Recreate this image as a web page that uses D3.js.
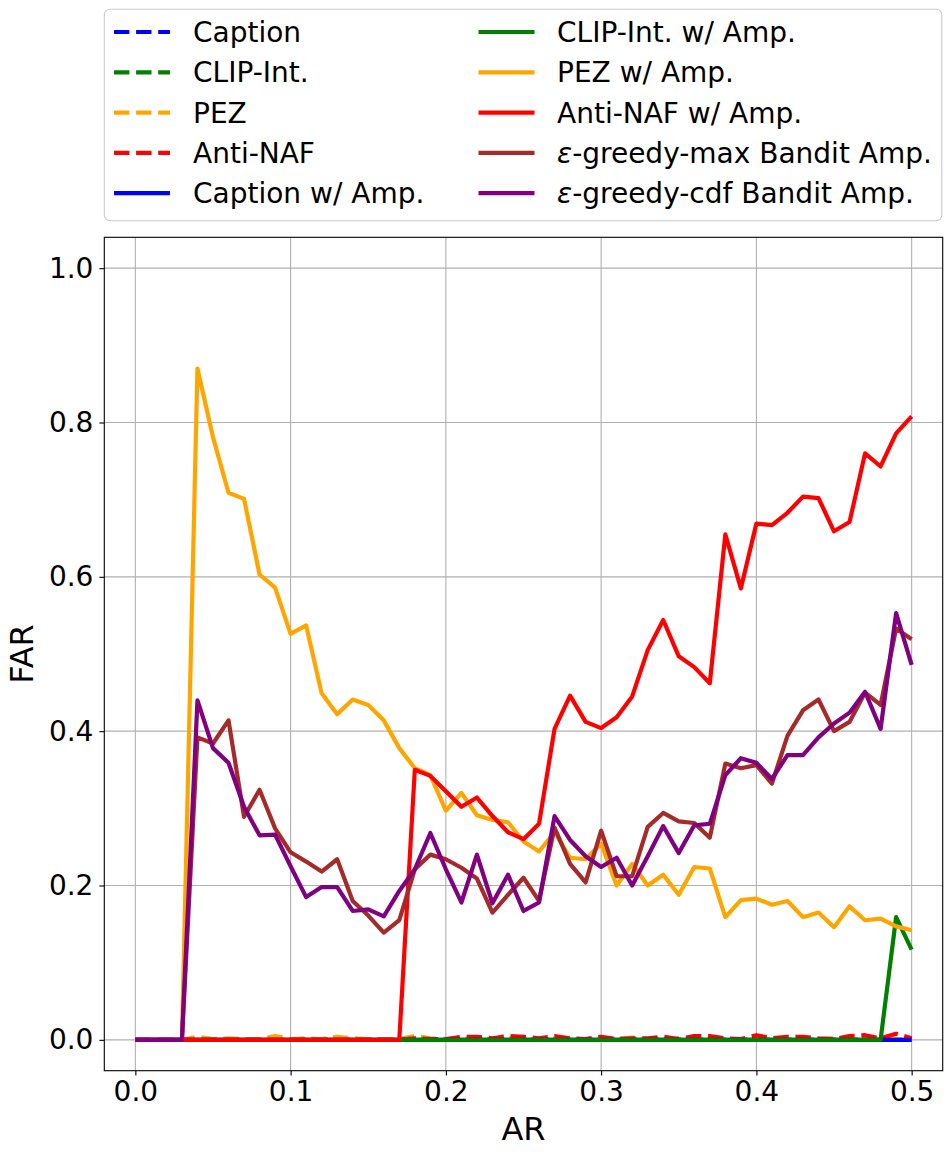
<!DOCTYPE html>
<html>
<head>
<meta charset="utf-8">
<script src="https://cdn.jsdelivr.net/npm/d3@7"></script>
<style>
  body { margin: 0; background: #fff; }
  text { font-family: "DejaVu Sans", sans-serif; }
</style>
</head>
<body>
<div id="chart"></div>
<script>
// AR values on the x axis
const arValues = [
  0.00, 0.01, 0.02, 0.03, 0.04, 0.05, 0.06, 0.07, 0.08, 0.09,
  0.10, 0.11, 0.12, 0.13, 0.14, 0.15, 0.16, 0.17, 0.18, 0.19,
  0.20, 0.21, 0.22, 0.23, 0.24, 0.25, 0.26, 0.27, 0.28, 0.29,
  0.30, 0.31, 0.32, 0.33, 0.34, 0.35, 0.36, 0.37, 0.38, 0.39,
  0.40, 0.41, 0.42, 0.43, 0.44, 0.45, 0.46, 0.47, 0.48, 0.49, 0.50
];

// baselines (dashed)
const captionFar = [
  0, 0, 0, 0, 0, 0, 0, 0, 0, 0,
  0, 0, 0, 0, 0, 0, 0, 0, 0, 0,
  0, 0, 0, 0, 0, 0, 0, 0, 0, 0,
  0, 0, 0, 0, 0, 0, 0, 0, 0, 0,
  0, 0, 0, 0, 0, 0, 0, 0, 0, 0, 0
];
const clipIntFar = [
  0, 0, 0, 0, 0, 0, 0, 0, 0, 0,
  0, 0, 0, 0, 0, 0, 0, 0, 0, 0,
  0, 0, 0, 0, 0, 0, 0, 0, 0, 0,
  0, 0, 0, 0, 0, 0, 0, 0, 0, 0,
  0, 0, 0, 0, 0, 0, 0, 0, 0, 0, 0
];
const pezFar = [
  0, 0, 0, 0, 0.004, 0.001, 0.002, 0.001, 0.001, 0.005,
  0.001, 0.002, 0.001, 0.004, 0.002, 0.001, 0.001, 0.001, 0.005, 0.002,
  0.001, 0.001, 0.002, 0.001, 0.002, 0.001, 0.001, 0.002, 0.001, 0.001,
  0.002, 0.001, 0.003, 0.001, 0.001, 0.002, 0.001, 0.002, 0.001, 0.001,
  0.002, 0.003, 0.001, 0.001, 0.001, 0.002, 0.001, 0.001, 0.002, 0.001, 0.001
];
const antiNafFar = [
  0, 0, 0, 0, 0, 0, 0, 0, 0, 0,
  0, 0, 0, 0, 0, 0, 0, 0, 0.002, 0.001,
  0.001, 0.004, 0.004, 0.002, 0.005, 0.004, 0.002, 0.005, 0.002, 0.001,
  0.004, 0.001, 0.002, 0.002, 0.004, 0.001, 0.005, 0.005, 0.002, 0.001,
  0.006, 0.002, 0.004, 0.004, 0.002, 0.001, 0.005, 0.006, 0.002, 0.008, 0.002
];

// with amplification (solid)
const captionAmpFar = [
  0, 0, 0, 0, 0, 0, 0, 0, 0, 0,
  0, 0, 0, 0, 0, 0, 0, 0, 0, 0,
  0, 0, 0, 0, 0, 0, 0, 0, 0, 0,
  0, 0, 0, 0, 0, 0, 0, 0, 0, 0,
  0, 0, 0, 0, 0, 0, 0, 0, 0, 0, 0
];
const clipIntAmpFar = [
  0, 0, 0, 0, 0, 0, 0, 0, 0, 0,
  0, 0, 0, 0, 0, 0, 0, 0, 0, 0,
  0, 0, 0, 0, 0, 0, 0, 0, 0, 0,
  0, 0, 0, 0, 0, 0, 0, 0, 0, 0,
  0, 0, 0, 0, 0, 0, 0, 0, 0, 0.159, 0.117
];
const pezAmpFar = [
  0, 0, 0, 0, 0.870, 0.781, 0.709, 0.701, 0.603, 0.586,
  0.526, 0.537, 0.449, 0.422, 0.441, 0.434, 0.414, 0.378, 0.352, 0.343,
  0.297, 0.320, 0.291, 0.285, 0.282, 0.257, 0.244, 0.269, 0.236, 0.234,
  0.254, 0.200, 0.228, 0.200, 0.214, 0.188, 0.224, 0.222, 0.159, 0.181,
  0.183, 0.175, 0.180, 0.159, 0.165, 0.146, 0.173, 0.155, 0.157, 0.147, 0.142
];
const antiNafAmpFar = [
  0, 0, 0, 0, 0, 0, 0, 0, 0, 0,
  0, 0, 0, 0, 0, 0, 0, 0, 0.350, 0.342,
  0.322, 0.302, 0.314, 0.290, 0.269, 0.260, 0.280, 0.403, 0.446, 0.412,
  0.404, 0.418, 0.445, 0.505, 0.544, 0.497, 0.483, 0.462, 0.655, 0.585,
  0.669, 0.667, 0.683, 0.704, 0.702, 0.659, 0.671, 0.760, 0.743, 0.786, 0.808
];
const banditMaxFar = [
  0, 0, 0, 0, 0.392, 0.384, 0.414, 0.289, 0.324, 0.274,
  0.243, 0.231, 0.218, 0.234, 0.180, 0.161, 0.139, 0.155, 0.221, 0.240,
  0.234, 0.223, 0.209, 0.165, 0.188, 0.210, 0.180, 0.275, 0.228, 0.204,
  0.271, 0.212, 0.212, 0.276, 0.294, 0.283, 0.281, 0.262, 0.358, 0.352,
  0.356, 0.332, 0.394, 0.427, 0.441, 0.400, 0.412, 0.450, 0.434, 0.533, 0.519
];
const banditCdfFar = [
  0, 0, 0, 0, 0.440, 0.378, 0.359, 0.302, 0.265, 0.266,
  0.225, 0.185, 0.198, 0.198, 0.167, 0.169, 0.160, 0.193, 0.221, 0.268,
  0.221, 0.178, 0.240, 0.177, 0.214, 0.167, 0.178, 0.290, 0.259, 0.238,
  0.224, 0.236, 0.200, 0.238, 0.277, 0.242, 0.278, 0.280, 0.343, 0.365,
  0.359, 0.338, 0.369, 0.369, 0.392, 0.410, 0.424, 0.451, 0.403, 0.553, 0.486
];

const xTicks = [0.0, 0.1, 0.2, 0.3, 0.4, 0.5];
const yTicks = [0.0, 0.2, 0.4, 0.6, 0.8, 1.0];

// series in plotting order (legend order)
const seriesList = [
  { name: "Caption", values: captionFar, color: "blue", dashed: true },
  { name: "CLIP-Int.", values: clipIntFar, color: "green", dashed: true },
  { name: "PEZ", values: pezFar, color: "orange", dashed: true },
  { name: "Anti-NAF", values: antiNafFar, color: "red", dashed: true },
  { name: "Caption w/ Amp.", values: captionAmpFar, color: "blue", dashed: false },
  { name: "CLIP-Int. w/ Amp.", values: clipIntAmpFar, color: "green", dashed: false },
  { name: "PEZ w/ Amp.", values: pezAmpFar, color: "orange", dashed: false },
  { name: "Anti-NAF w/ Amp.", values: antiNafAmpFar, color: "red", dashed: false },
  { name: "-greedy-max Bandit Amp.", eps: true, values: banditMaxFar, color: "brown", dashed: false },
  { name: "-greedy-cdf Bandit Amp.", eps: true, values: banditCdfFar, color: "purple", dashed: false }
];

const W = 952, H = 1157;
const plot = { left: 104.3, right: 942.7, top: 237.3, bottom: 1070.7 };
const lineWidth = 4.2;
const dash = "15.4,6.7";

let svg = d3.select("#chart").append("svg")
  .attr("width", W)
  .attr("height", H);

let x = d3.scaleLinear().domain([-0.02, 0.52]).range([plot.left, plot.right]);
let y = d3.scaleLinear().domain([-0.04, 1.04]).range([plot.bottom, plot.top]);

// grid
let grid = svg.append("g").attr("stroke", "#b0b0b0").attr("stroke-width", 1.1);
grid.selectAll(".vgrid").data(xTicks).enter().append("line")
  .attr("x1", d => x(d)).attr("x2", d => x(d))
  .attr("y1", plot.top).attr("y2", plot.bottom);
grid.selectAll(".hgrid").data(yTicks).enter().append("line")
  .attr("y1", d => y(d)).attr("y2", d => y(d))
  .attr("x1", plot.left).attr("x2", plot.right);

// clip lines to the axes box
svg.append("clipPath").attr("id", "plotClip").append("rect")
  .attr("x", plot.left).attr("y", plot.top)
  .attr("width", plot.right - plot.left).attr("height", plot.bottom - plot.top);

let line = d3.line()
  .x((d, i) => x(arValues[i]))
  .y(d => y(d));

svg.append("g").attr("clip-path", "url(#plotClip)")
  .selectAll("path")
  .data(seriesList)
  .enter()
  .append("path")
  .attr("d", d => line(d.values))
  .attr("fill", "none")
  .attr("stroke", d => d.color)
  .attr("stroke-width", lineWidth)
  .attr("stroke-linejoin", "round")
  .attr("stroke-dasharray", d => d.dashed ? dash : null);

// axes
let xAxis = svg.append("g")
  .attr("transform", "translate(0," + plot.bottom + ")")
  .call(d3.axisBottom(x).tickValues(xTicks).tickFormat(d3.format(".1f")).tickSize(4.9).tickPadding(6).tickSizeOuter(0));
let yAxis = svg.append("g")
  .attr("transform", "translate(" + plot.left + ",0)")
  .call(d3.axisLeft(y).tickValues(yTicks).tickFormat(d3.format(".1f")).tickSize(4.9).tickPadding(6).tickSizeOuter(0));
[xAxis, yAxis].forEach(a => {
  a.select(".domain").remove();
  a.selectAll("line").attr("stroke", "#000").attr("stroke-width", 1.1);
  a.selectAll("text").attr("font-size", 28).attr("fill", "#000")
    .style("font-family", "'DejaVu Sans', sans-serif");
});

// frame
svg.append("rect")
  .attr("x", plot.left).attr("y", plot.top)
  .attr("width", plot.right - plot.left).attr("height", plot.bottom - plot.top)
  .attr("fill", "none").attr("stroke", "#000").attr("stroke-width", 1.1);

// axis labels
svg.append("text")
  .attr("x", (plot.left + plot.right) / 2).attr("y", 1140)
  .attr("text-anchor", "middle").attr("font-size", 32)
  .text("AR");
svg.append("text")
  .attr("transform", "translate(33," + (plot.top + plot.bottom) / 2 + ") rotate(-90)")
  .attr("text-anchor", "middle").attr("font-size", 32)
  .text("FAR");

// legend
svg.append("rect")
  .attr("x", 104.3).attr("y", 9.3)
  .attr("width", 837.5).attr("height", 211.4)
  .attr("rx", 5.6)
  .attr("fill", "#fff").attr("fill-opacity", 0.8)
  .attr("stroke", "#cccccc").attr("stroke-width", 1.1);

let legendRows = [32, 72.3, 112.6, 152.9, 193.2];
let legendCols = [{ hx: 114, tx: 193 }, { hx: 478.5, tx: 557 }];
let legend = svg.append("g").selectAll(".legendItem")
  .data(seriesList)
  .enter()
  .append("g")
  .attr("class", "legendItem")
  .attr("transform", (d, i) => {
    let col = legendCols[Math.floor(i / 5)];
    return `translate(${col.hx}, ${legendRows[i % 5]})`;
  });

legend.append("line")
  .attr("x1", 0).attr("x2", 56)
  .attr("stroke", d => d.color)
  .attr("stroke-width", lineWidth)
  .attr("stroke-dasharray", d => d.dashed ? dash : null);

let legendText = legend.append("text")
  .attr("x", (d, i) => legendCols[Math.floor(i / 5)].tx - legendCols[Math.floor(i / 5)].hx)
  .attr("y", 10)
  .attr("font-size", 28);
legendText.filter(d => d.eps).append("tspan")
  .attr("font-style", "italic")
  .text("\u03b5");
legendText.append("tspan").text(d => d.name);
</script>
</body>
</html>
